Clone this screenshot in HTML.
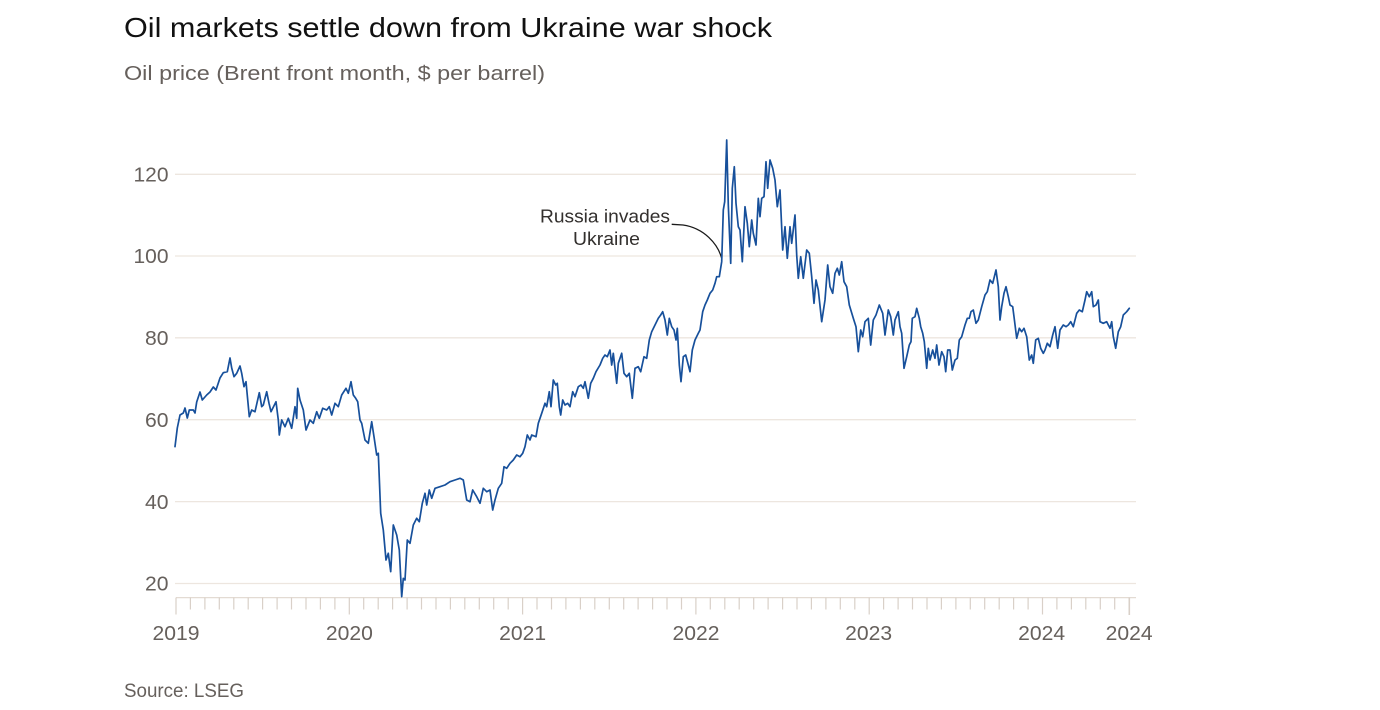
<!DOCTYPE html>
<html>
<head>
<meta charset="utf-8">
<style>
  html, body { margin: 0; padding: 0; background: #ffffff; }
  body { width: 1380px; height: 710px; overflow: hidden; }
  svg { display: block; font-family: "Liberation Sans", "DejaVu Sans", sans-serif; }
</style>
</head>
<body>
<svg width="1380" height="710" viewBox="0 0 1380 710" xmlns="http://www.w3.org/2000/svg">
  <rect x="0" y="0" width="1380" height="710" fill="#ffffff"/>

  <!-- Title / subtitle -->
  <text x="124" y="37" font-size="28" fill="#111111" textLength="648" lengthAdjust="spacingAndGlyphs">Oil markets settle down from Ukraine war shock</text>
  <text x="124" y="80" font-size="20" fill="#66605c" textLength="421" lengthAdjust="spacingAndGlyphs">Oil price (Brent front month, $ per barrel)</text>

  <!-- Gridlines -->
  <g stroke="#ede6df" stroke-width="1.3">
    <line x1="175" y1="174.3" x2="1136" y2="174.3"/>
    <line x1="175" y1="256" x2="1136" y2="256"/>
    <line x1="175" y1="337.8" x2="1136" y2="337.8"/>
    <line x1="175" y1="419.7" x2="1136" y2="419.7"/>
    <line x1="175" y1="501.6" x2="1136" y2="501.6"/>
    <line x1="175" y1="583.5" x2="1136" y2="583.5"/>
  </g>

  <!-- Y labels -->
  <g font-size="20" fill="#66605c" text-anchor="end">
    <text x="168.5" y="181.5" textLength="35" lengthAdjust="spacingAndGlyphs">120</text>
    <text x="168.5" y="263.2" textLength="35" lengthAdjust="spacingAndGlyphs">100</text>
    <text x="168.5" y="345" textLength="23.5" lengthAdjust="spacingAndGlyphs">80</text>
    <text x="168.5" y="426.9" textLength="23.5" lengthAdjust="spacingAndGlyphs">60</text>
    <text x="168.5" y="508.8" textLength="23.5" lengthAdjust="spacingAndGlyphs">40</text>
    <text x="168.5" y="590.7" textLength="23.5" lengthAdjust="spacingAndGlyphs">20</text>
  </g>

  <!-- X axis line -->
  <line x1="176" y1="597.6" x2="1136" y2="597.6" stroke="#e3dbd3" stroke-width="1.3"/>

  <!-- Ticks -->
  <g id="ticks" stroke="#d9d0c8" stroke-width="1.2"></g>

  <!-- X labels -->
  <g font-size="20" fill="#66605c" text-anchor="middle">
    <text x="176" y="640" textLength="47" lengthAdjust="spacingAndGlyphs">2019</text>
    <text x="349.4" y="640" textLength="47" lengthAdjust="spacingAndGlyphs">2020</text>
    <text x="522.7" y="640" textLength="47" lengthAdjust="spacingAndGlyphs">2021</text>
    <text x="696" y="640" textLength="47" lengthAdjust="spacingAndGlyphs">2022</text>
    <text x="868.6" y="640" textLength="47" lengthAdjust="spacingAndGlyphs">2023</text>
    <text x="1041.7" y="640" textLength="47" lengthAdjust="spacingAndGlyphs">2024</text>
    <text x="1129.2" y="640" textLength="47" lengthAdjust="spacingAndGlyphs">2024</text>
  </g>

  <!-- Annotation -->
  <text x="605" y="222.3" font-size="18.5" fill="#33302e" text-anchor="middle" textLength="130" lengthAdjust="spacingAndGlyphs">Russia invades</text>
  <text x="606.5" y="245" font-size="18.5" fill="#33302e" text-anchor="middle" textLength="67" lengthAdjust="spacingAndGlyphs">Ukraine</text>
  <path d="M671.7,224.3 L683,225 C704,228 718,244 721.7,258.5" fill="none" stroke="#1a1a1a" stroke-width="1.3"/>

  <!-- Series -->
  <polyline fill="none" stroke="#17509b" stroke-width="1.7" stroke-linejoin="round" stroke-linecap="round" points="
175,446.7 177.3,428 180,415 183.3,413 185,408 187.3,418 189.3,410 193.3,410 195,413 196.7,402 200,392 202.3,400 206.7,395 210,392 213.3,387 216,390 220,378 223.3,372.7 227.3,371.7 230,358 231.7,368 234,376.7 236.7,373.3 240,366 241.7,373.3 244,386.7 246,381.7 249.3,416.7 251.7,410 255,411.7 259.3,392.7 261.7,406.7 263.3,405 266.7,391.7 269,403.3 271,411.7 276,401.7 278.3,420 279.3,435 281.7,420 285,426.7 288.3,418.3 291.7,428.3 295,406.7 296.7,418.3 297.7,388.3 300,400 303.3,410 306,430 310,420 313.3,423.3 316.7,411.7 319.3,418.3 322.7,408.3 326.7,410 329.3,406.7 331.7,415 335,403.3 338.3,406.7 341.7,395 346,388.3 348.3,393.3 351,381.7 353.3,395 355.7,398.3 357.7,401.7 360,420 361.7,423.3 365,440 368.3,443.3 371.7,421.7 374,436.7 376.7,455 378.3,453.3 380.7,513.3 383.3,530 386,560 388.3,553.3 390.7,571.7 393.3,525 396.7,535 399.3,550 401.7,596.7 403.3,578.3 405,580 407.3,540 410,543.3 413.3,525 416.7,518.3 419.3,521.7 422.3,503.3 425,493.3 426.7,505 429.3,490 431.7,498.3 435,488.3 440,486.7 445,485 450,481.7 455,480 460,478.3 463.3,480 466.7,500 470,501.7 472.7,490 476.7,496.7 480,503.3 483.3,488.3 486.7,491.7 490,490 492.7,510 495,500 498.3,488.3 501.7,483.3 504,466.7 506.7,468.3 510,463.3 513.3,460 516.7,455 520,456.7 522.7,453.3 525,446.7 527.3,435 530,440
531.7,435 536,436.7 538.3,423.3 541.7,413.3 545,403.3 546.7,406.7 549.3,391.7 551,406.7 553.3,380 555.7,385 557.3,383.3 559.3,406.7 560.7,415 562.7,400 565,405 567.7,403.3 570,406.7 572.7,391.7 575,396.7 578.3,386.7 581,385 583.3,388.3 585,381.7 586.7,390 588.3,398.3 590.7,383.3 593.3,378.3 596,371.7 600,365 602.7,358.3 605,355 607.3,356.7 610,350 611.7,365 613.3,353.3 616.7,383.3 618.3,363.3 621.7,353.3 624,373.3 626.7,376.7 629.3,373.3 632.3,398.3 635,368.3 638.3,366.7 640.7,371.7 644,356.7 646.7,358.3 649.3,340 651.7,331.7 655,325 658.3,318.3 660.7,315 662.7,311.7 665,320 667.3,335 669.3,318.3 671.7,326.7 674,330 676,340 677.3,328.3 679.3,365 681,381.7 683.3,356.7 685.7,355 688.3,365 690,371.7 692.3,350 695,340 698.3,333.3 700,330 702.7,311.7 705,305 707.3,300 710,293.3 712.7,290 715,283.3 716.7,276.7
719.3,276.7 721.7,261.7 723.3,210 724.7,201.7 726.7,140 728.3,205 730.7,263.3 732.3,188.3 734.3,166.7 736,203.3 738.3,226.7 740,230 742.3,261.7 745,206.7 747.3,223.3 749.3,246.7 751.7,220 753.3,233.3 756,245 758.3,198.3 760,216.7 761.7,198.3 764,196.7 766,161.7 767.7,188.3 770,160 772.7,168.3 775,180 777.3,206.7 780,190 782.7,250 785,226.7 787.3,258.3 790,226.7 791.7,243.3 795,215 796.7,255 798.3,278.3 800.7,256.7 803.3,278.3 806.7,250 809.3,253.3 811.7,276.7 814,303.3 816,280 818.3,290 821.7,321.7 825,300 827.7,265 830,286.7 832.7,293.3 835,273.3 837.3,268.3 839.3,275 841.7,261.7 844,281.7 846.7,286.7 849.3,305 853.3,318.3 856,326.7 858.3,351.7 860.7,330 862.7,336.7 865,321.7 868.3,318.3 870.7,345 873.3,320 876,315 879.3,305
882.7,313.3 885,335 888.3,310 890.7,316.7 893.3,335 895,320 898.3,311.7 900,326.7 901.7,333.3 904,368.3 906.7,356.7 909.3,345 911,341.7 912.3,318.3 915,316.7 916.7,308.3 919.3,318.3 920.7,326.7 922.7,333.3 924.3,341.7 926.7,368.3 928.3,348.3 930,360 932.7,350 935,358.3 936.7,345 939,365 941.7,351.7 944,356.7 945.7,371.7 947.7,350 950,350 952.3,370 955,360 957.3,358.3 959.3,340 961.7,336.7 965,325 967.3,318.3 969.3,318.3 971,311.7 973.3,310 976,323.3 978.3,320 981.7,306.7 985,295 987.3,291.7 990,280 992.7,283.3 996,270 998.3,286.7 1000,320 1001.7,306.7 1004,293.3 1006,286.7 1008.3,296.7 1010,305 1012.7,306.7 1014,316.7 1016.7,338.3 1019.3,328.3 1021.7,331.7 1024,328.3 1026.7,336.7 1029.3,360 1031.7,355 1033.3,363.3 1035.7,340 1038.3,338.3 1040.7,348.3 1043.3,353.3 1045,350 1047.3,343.3 1050,346.7 1052.7,335 1055,326.7 1057.7,348.3 1060,330 1063.3,325 1066,326.7 1068.3,325 1070.7,321.7 1073.3,326.7 1076.7,313.3 1079.3,310 1082.3,311.7 1085,300 1086.7,291.7 1089.3,296.7 1091.7,291.7 1093.3,306.7 1096,305 1098.3,300 1100,321.7 1103.3,323.3 1106.7,321.7 1110,328.3 1111.7,321.7 1113.3,336.7 1115.7,348.3 1118.3,331.7 1120.7,326.7 1123.3,315 1126.7,311.7 1129.3,308.3"/>

  <!-- Source -->
  <text x="124" y="697" font-size="19" fill="#66605c" textLength="120" lengthAdjust="spacingAndGlyphs">Source: LSEG</text>
</svg>
<script>
(function(){
  var g = document.getElementById('ticks');
  var ns = 'http://www.w3.org/2000/svg';
  var x0 = 176, yr = 173.3, m = yr/12;
  for (var i = 0; i <= 66; i++) {
    var x = x0 + i*m;
    var major = (i % 12 === 0);
    var l = document.createElementNS(ns,'line');
    l.setAttribute('x1', x.toFixed(1)); l.setAttribute('x2', x.toFixed(1));
    l.setAttribute('y1', '597.6'); l.setAttribute('y2', major ? '614.5' : '609.5');
    g.appendChild(l);
  }
  var e = document.createElementNS(ns,'line');
  e.setAttribute('x1','1129.3'); e.setAttribute('x2','1129.3');
  e.setAttribute('y1','597.6'); e.setAttribute('y2','615');
  e.setAttribute('stroke-width','1.6');
  g.appendChild(e);
})();
</script>
</body>
</html>
